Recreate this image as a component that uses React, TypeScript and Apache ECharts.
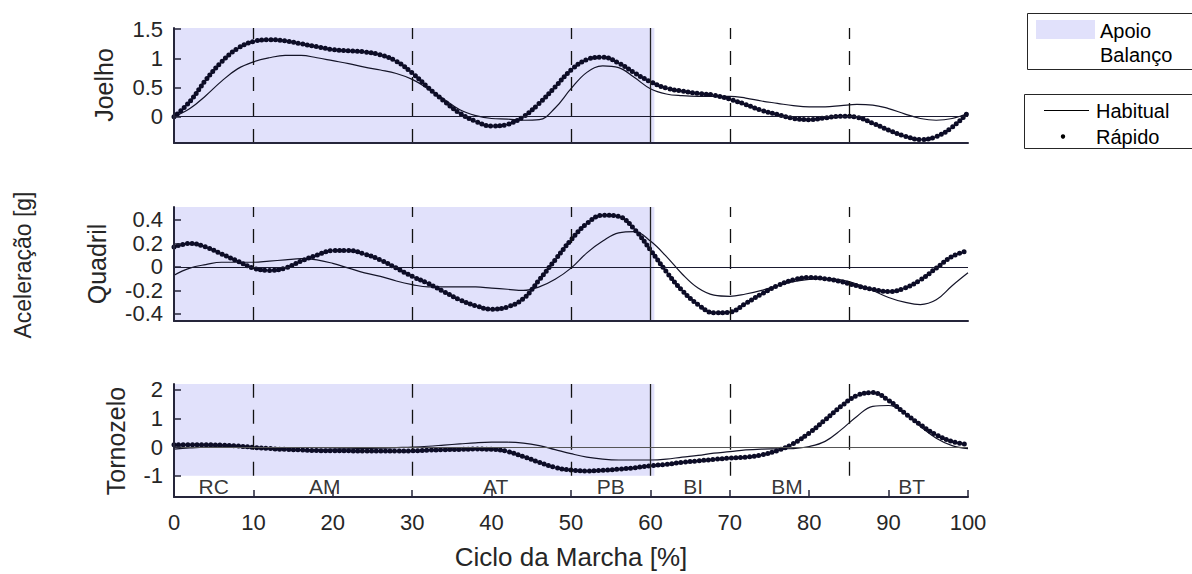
import React, { useEffect, useRef } from "react";
import * as echarts from "echarts";

// ---------- data ----------
const X = [0, 2, 4, 6, 8, 10, 12, 14, 16, 18, 20, 22, 24, 26, 28, 30, 32, 34, 36, 38, 40, 42, 44, 46, 48, 50, 52, 54, 56, 58, 60, 62, 64, 66, 68, 70, 72, 74, 76, 78, 80, 82, 84, 86, 88, 90, 92, 94, 96, 98, 100];

const JOELHO_HABITUAL = [0, 0.14, 0.36, 0.61, 0.82, 0.94, 1.01, 1.05, 1.05, 1.01, 0.96, 0.91, 0.85, 0.8, 0.74, 0.64, 0.48, 0.3, 0.12, 0.02, -0.03, -0.04, -0.06, -0.05, 0.15, 0.48, 0.76, 0.87, 0.84, 0.67, 0.48, 0.39, 0.36, 0.35, 0.35, 0.35, 0.32, 0.27, 0.23, 0.19, 0.17, 0.17, 0.19, 0.21, 0.2, 0.14, 0.05, -0.03, -0.06, -0.03, 0.06];
const JOELHO_RAPIDO = [0, 0.26, 0.63, 0.94, 1.17, 1.29, 1.32, 1.3, 1.25, 1.2, 1.15, 1.13, 1.11, 1.06, 0.95, 0.75, 0.5, 0.27, 0.06, -0.08, -0.16, -0.13, 0.0, 0.23, 0.51, 0.8, 0.98, 1.02, 0.92, 0.75, 0.6, 0.49, 0.44, 0.4, 0.37, 0.3, 0.21, 0.11, 0.04, -0.03, -0.05, -0.02, 0.01, -0.01, -0.11, -0.23, -0.33, -0.39, -0.34, -0.18, 0.07];

const QUADRIL_HABITUAL = [-0.07, -0.01, 0.02, 0.04, 0.04, 0.04, 0.05, 0.06, 0.07, 0.06, 0.03, -0.01, -0.05, -0.08, -0.12, -0.15, -0.17, -0.17, -0.17, -0.17, -0.18, -0.19, -0.2, -0.17, -0.105, -0.01, 0.12, 0.22, 0.29, 0.3, 0.22, 0.09, -0.06, -0.18, -0.24, -0.25, -0.23, -0.2, -0.16, -0.125, -0.105, -0.1, -0.11, -0.145, -0.2, -0.26, -0.3, -0.32, -0.28, -0.16, -0.05];
const QUADRIL_RAPIDO = [0.17, 0.2, 0.17, 0.11, 0.05, -0.01, -0.03, -0.01, 0.05, 0.1, 0.14, 0.14, 0.11, 0.06, -0.01, -0.08, -0.14, -0.21, -0.28, -0.33, -0.36, -0.34, -0.27, -0.11, 0.06, 0.23, 0.37, 0.44, 0.43, 0.32, 0.145, -0.04, -0.2, -0.32, -0.39, -0.385, -0.31, -0.23, -0.16, -0.11, -0.09, -0.1, -0.125, -0.16, -0.19, -0.21, -0.18, -0.11, -0.01, 0.09, 0.14];

const TORNOZELO_HABITUAL = [-0.07, -0.03, 0.0, 0.01, -0.01, -0.03, -0.06, -0.08, -0.09, -0.08, -0.07, -0.06, -0.05, -0.04, -0.02, 0.0, 0.03, 0.07, 0.11, 0.15, 0.17, 0.17, 0.14, 0.05, -0.09, -0.23, -0.35, -0.42, -0.45, -0.45, -0.45, -0.42, -0.35, -0.29, -0.21, -0.16, -0.1, -0.07, -0.06, -0.05, 0.02, 0.2, 0.6, 1.07, 1.42, 1.45, 1.19, 0.72, 0.31, 0.05, -0.05];
const TORNOZELO_RAPIDO = [0.08, 0.08, 0.08, 0.07, 0.04, -0.01, -0.05, -0.08, -0.1, -0.12, -0.13, -0.13, -0.14, -0.14, -0.14, -0.13, -0.11, -0.09, -0.08, -0.07, -0.08, -0.15, -0.33, -0.53, -0.71, -0.8, -0.83, -0.81, -0.77, -0.72, -0.65, -0.6, -0.53, -0.48, -0.43, -0.38, -0.35, -0.27, -0.12, 0.12, 0.49, 0.95, 1.42, 1.8, 1.9, 1.63, 1.19, 0.78, 0.43, 0.2, 0.09];

const SUBPLOT_NAMES = ["Joelho", "Quadril", "Tornozelo"];
const Y_TICKS_JOELHO = [0, 0.5, 1, 1.5];
const Y_TICKS_QUADRIL = [-0.4, -0.2, 0, 0.2, 0.4];
const Y_TICKS_TORNOZELO = [-1, 0, 1, 2];
const X_TICKS_STEP = 10;

const PHASE_BOUNDS = [10, 30, 50, 70, 85];
const STANCE_END = 60;
const PHASE_NAMES = ["RC", "AM", "AT", "PB", "BI", "BM", "BT"];
const PHASE_CENTERS = [5, 19, 40.5, 55, 65.4, 77.2, 92.9];

const SERIES_NAMES = ["Habitual", "Rápido"];
const PHASE_LEGEND = ["Apoio", "Balanço"];

// ---------- style ----------
const FONT = "'Liberation Sans', Arial, sans-serif";
const TXT = "#262626";
const AXIS = "#25253a";
const SHADE = "#e1e1fb";
const LINE_C = "#141428";
const DOT_C = "#0c0c26";

const pairs = (ys: number[]) => X.map((x, i) => [x, ys[i]]);

const Y_RANGES = [
  { min: -0.45, max: 1.52, ticks: Y_TICKS_JOELHO },
  { min: -0.46, max: 0.51, ticks: Y_TICKS_QUADRIL },
  { min: -1.74, max: 2.2, ticks: Y_TICKS_TORNOZELO },
];
const GRIDS = [
  { left: 174, width: 794, top: 28, height: 115 },
  { left: 174, width: 794, top: 207, height: 114 },
  { left: 174, width: 794, top: 384, height: 113 },
];
const DATA = [
  [JOELHO_HABITUAL, JOELHO_RAPIDO],
  [QUADRIL_HABITUAL, QUADRIL_RAPIDO],
  [TORNOZELO_HABITUAL, TORNOZELO_RAPIDO],
];
const PHASE_LABEL_Y = -1.37;
const SHADE_BOTTOM_TORNOZELO = -1;

function buildOption() {
  const xAxis = GRIDS.map((_, i) => ({
    type: "value",
    gridIndex: i,
    min: 0,
    max: 100,
    interval: X_TICKS_STEP,
    z: 10,
    axisLine: { show: true, onZero: false, lineStyle: { color: AXIS, width: 2 } },
    axisTick: { show: i === 2, inside: true, length: 7, lineStyle: { color: AXIS, width: 1.5 } },
    axisLabel: { show: i === 2, fontSize: 22, fontFamily: FONT, color: TXT, margin: 14 },
    splitLine: { show: false },
  }));
  const yAxis = Y_RANGES.map((r, i) => ({
    type: "value",
    gridIndex: i,
    min: r.min,
    max: r.max,
    z: 10,
    axisLine: { show: true, onZero: false, lineStyle: { color: AXIS, width: 2 } },
    axisTick: { show: true, inside: true, length: 7, customValues: r.ticks, lineStyle: { color: AXIS, width: 1.5 } },
    axisLabel: { show: true, customValues: r.ticks, fontSize: 22, fontFamily: FONT, color: TXT, margin: 11 },
    splitLine: { show: false },
  }));

  const series: any[] = [];
  GRIDS.forEach((_, i) => {
    const isBottom = i === 2;
    const dashLines = PHASE_BOUNDS.map((b) =>
      isBottom
        ? [{ coord: [b, SHADE_BOTTOM_TORNOZELO] }, { coord: [b, Y_RANGES[i].max] }]
        : { xAxis: b }
    );
    const stanceLine = isBottom
      ? [
          { coord: [STANCE_END, SHADE_BOTTOM_TORNOZELO], lineStyle: { type: "solid", color: "#222", width: 1.3 } },
          { coord: [STANCE_END, Y_RANGES[i].max], lineStyle: { type: "solid", color: "#222", width: 1.3 } },
        ]
      : { xAxis: STANCE_END, lineStyle: { type: "solid", color: "#222", width: 1.3 } };
    const zeroLine = { yAxis: 0, lineStyle: { type: "solid", color: isBottom ? "#555" : "#1a1a30", width: 1 } };

    series.push({
      type: "line",
      xAxisIndex: i,
      yAxisIndex: i,
      data: [[0, 0]],
      symbol: "none",
      lineStyle: { opacity: 0 },
      silent: true,
      z: 1,
      markArea: {
        silent: true,
        itemStyle: { color: SHADE },
        data: [
          isBottom
            ? [{ xAxis: 0, yAxis: SHADE_BOTTOM_TORNOZELO }, { xAxis: STANCE_END + 0.5, yAxis: Y_RANGES[i].max }]
            : [{ xAxis: 0 }, { xAxis: STANCE_END + 0.5 }],
        ],
      },
      markLine: {
        silent: true,
        symbol: "none",
        label: { show: false },
        lineStyle: { type: [14, 12], color: "#111", width: 1.3 },
        data: [...dashLines, stanceLine, zeroLine],
      },
    });
    series.push({
      name: SERIES_NAMES[0],
      type: "line",
      xAxisIndex: i,
      yAxisIndex: i,
      data: pairs(DATA[i][0]),
      smooth: 0.4,
      symbol: "none",
      lineStyle: { color: LINE_C, width: 1.2 },
      z: 3,
    });
    series.push({
      name: SERIES_NAMES[1],
      type: "line",
      xAxisIndex: i,
      yAxisIndex: i,
      data: pairs(DATA[i][1]),
      smooth: 0.4,
      symbol: "none",
      lineStyle: { color: DOT_C, width: 5, type: [0, 4.6], cap: "round" },
      z: 4,
    });
  });

  series.push({
    type: "scatter",
    xAxisIndex: 2,
    yAxisIndex: 2,
    symbolSize: 1,
    itemStyle: { color: "rgba(0,0,0,0)" },
    silent: true,
    z: 5,
    data: PHASE_NAMES.map((n, k) => ({ name: n, value: [PHASE_CENTERS[k], PHASE_LABEL_Y] })),
    label: { show: true, position: "inside", formatter: "{b}", fontSize: 21, fontFamily: FONT, color: "#000" },
  });

  const titleX = [104, 97, 116];
  const titleY = [85, 264, 441];
  const graphic: any[] = [
    ...SUBPLOT_NAMES.map((n, i) => ({
      type: "text",
      x: titleX[i],
      y: titleY[i],
      rotation: Math.PI / 2,
      style: { text: n, fontSize: 25, fontFamily: FONT, fill: TXT, align: "center", verticalAlign: "middle" },
    })),
    {
      type: "text",
      x: 23,
      y: 265,
      rotation: Math.PI / 2,
      style: { text: "Aceleração [g]", fontSize: 23, fontFamily: FONT, fill: TXT, align: "center", verticalAlign: "middle" },
    },
    {
      type: "text",
      x: 571,
      y: 557,
      style: { text: "Ciclo da Marcha [%]", fontSize: 26, fontFamily: FONT, fill: TXT, align: "center", verticalAlign: "middle" },
    },
    // legend 1
    { type: "rect", shape: { x: 1027.5, y: 13.5, width: 180, height: 56 }, style: { fill: "#fff", stroke: "#262626", lineWidth: 1 } },
    { type: "rect", shape: { x: 1036, y: 20, width: 59, height: 19 }, style: { fill: SHADE } },
    { type: "text", x: 1100, y: 31, style: { text: PHASE_LEGEND[0], fontSize: 20, fontFamily: FONT, fill: "#000", align: "left", verticalAlign: "middle" } },
    { type: "text", x: 1100, y: 55, style: { text: PHASE_LEGEND[1], fontSize: 20, fontFamily: FONT, fill: "#000", align: "left", verticalAlign: "middle" } },
    // legend 2
    { type: "rect", shape: { x: 1024.5, y: 94.5, width: 180, height: 54 }, style: { fill: "#fff", stroke: "#262626", lineWidth: 1 } },
    { type: "line", shape: { x1: 1044, y1: 110.5, x2: 1089, y2: 110.5 }, style: { stroke: "#000", lineWidth: 1 } },
    { type: "circle", shape: { cx: 1063, cy: 136.5, r: 2.2 }, style: { fill: "#000" } },
    { type: "text", x: 1096, y: 111, style: { text: SERIES_NAMES[0], fontSize: 20, fontFamily: FONT, fill: "#000", align: "left", verticalAlign: "middle" } },
    { type: "text", x: 1096, y: 137, style: { text: SERIES_NAMES[1], fontSize: 20, fontFamily: FONT, fill: "#000", align: "left", verticalAlign: "middle" } },
  ];

  return {
    animation: false,
    backgroundColor: "#fff",
    grid: GRIDS,
    xAxis,
    yAxis,
    series,
    graphic,
  };
}

export default function App() {
  const ref = useRef<HTMLDivElement>(null);
  useEffect(() => {
    const chart = echarts.init(ref.current as HTMLDivElement, null, { renderer: "svg" });
    chart.setOption(buildOption() as any);
    return () => chart.dispose();
  }, []);
  return (
    <div
      ref={ref}
      style={{ position: "fixed", left: 0, top: 0, width: 1192, height: 574, background: "#fff" }}
    />
  );
}
